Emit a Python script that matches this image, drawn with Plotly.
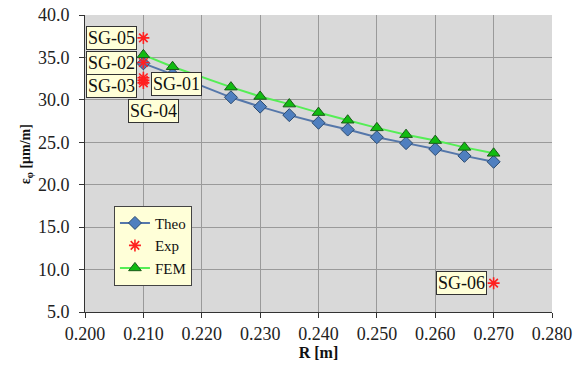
import plotly.graph_objects as go

# Data
r_model = [0.210, 0.215, 0.225, 0.230, 0.235, 0.240, 0.245, 0.250, 0.255, 0.260, 0.265, 0.270]
theo = [34.3, 33.0, 30.3, 29.2, 28.2, 27.3, 26.5, 25.6, 24.9, 24.2, 23.4, 22.7]
fem = [35.3, 33.9, 31.5, 30.4, 29.5, 28.5, 27.6, 26.7, 25.9, 25.2, 24.4, 23.7]

exp_labels = ["SG-01", "SG-02", "SG-03", "SG-04", "SG-05", "SG-06"]
exp_r = [0.210, 0.210, 0.210, 0.210, 0.210, 0.270]
exp_val = [32.6, 34.4, 32.3, 32.0, 37.3, 8.4]

x_ticks = [0.200, 0.210, 0.220, 0.230, 0.240, 0.250, 0.260, 0.270, 0.280]
y_ticks = [5.0, 10.0, 15.0, 20.0, 25.0, 30.0, 35.0, 40.0]

SERIF = "Liberation Serif"

fig = go.Figure()
fig.add_trace(go.Scatter(
    x=r_model, y=theo, name="Theo", mode="lines+markers",
    line=dict(color="#5577aa", width=2),
    marker=dict(symbol="diamond", size=10, color="#4f7fbf",
                line=dict(color="#2a4a70", width=1))))
fig.add_trace(go.Scatter(
    x=exp_r, y=exp_val, name="Exp", mode="markers",
    marker=dict(symbol="asterisk-open", size=10, color="#ff2020",
                line=dict(color="#ff2020", width=1.6))))
fig.add_trace(go.Scatter(
    x=r_model, y=fem, name="FEM", mode="lines+markers",
    line=dict(color="#55ee55", width=2),
    marker=dict(symbol="triangle-up", size=11, color="#11bb11",
                line=dict(color="#1a5a1a", width=1))))

# label placement (anchor, xshift, yshift) per label
placement = {
    "SG-01": ("left", 8, -6),
    "SG-02": ("right", -6, 0),
    "SG-03": ("right", -6, -6),
    "SG-04": ("center", 10, -28),
    "SG-05": ("right", -6, 0),
    "SG-06": ("right", -7, 0),
}
for lab, xv, yv in zip(exp_labels, exp_r, exp_val):
    anc, xs, ys = placement[lab]
    fig.add_annotation(
        x=xv, y=yv, text=lab, showarrow=False, xanchor=anc, yanchor="middle",
        xshift=xs, yshift=ys,
        font=dict(family=SERIF, size=18, color="#111111"),
        bgcolor="#ffffd8", bordercolor="#333333", borderwidth=1, borderpad=1)

# y-axis title as a rotated annotation (placed closer to the ticks)
fig.add_annotation(
    xref="paper", yref="paper", x=-0.125, y=0.53, xanchor="center", yanchor="middle",
    text="<b>ε<sub>φ</sub> [μm/m]</b>", textangle=-90, showarrow=False,
    font=dict(family=SERIF, size=14, color="#111111"))

tickfont = dict(family=SERIF, size=18, color="#222222")

fig.update_layout(
    width=580, height=372,
    margin=dict(l=85, r=28, t=15, b=60),
    paper_bgcolor="white", plot_bgcolor="#d9d9d9",
    font=dict(family=SERIF, size=17, color="#222222"),
    showlegend=True,
    legend=dict(x=0.062, y=0.358, xanchor="left", yanchor="top",
                bgcolor="#ffffd8", bordercolor="#444444", borderwidth=1,
                font=dict(family=SERIF, size=15, color="#111111"),
                itemwidth=30, tracegroupgap=0),
    xaxis=dict(range=[0.200, 0.280], tickvals=x_ticks,
               ticktext=[f"{v:.3f}" for v in x_ticks], tickfont=tickfont,
               showgrid=True, gridcolor="#9a9a9a", gridwidth=1,
               showline=True, linecolor="#333333", linewidth=1,
               ticks="outside", ticklen=5, tickcolor="#333333",
               zeroline=False, automargin=False,
               title=dict(text="<b>R [m]</b>", font=dict(family=SERIF, size=16, color="#111111"), standoff=4)),
    yaxis=dict(range=[5.0, 40.0], tickvals=y_ticks,
               ticktext=[f"{v:.1f}" for v in y_ticks], tickfont=tickfont,
               ticklabelstandoff=6,
               showgrid=True, gridcolor="#9a9a9a", gridwidth=1,
               showline=True, linecolor="#333333", linewidth=1,
               ticks="outside", ticklen=5, tickcolor="#333333",
               zeroline=False, automargin=False),
)

fig.write_html("out.html", config={"displayModeBar": False},
               post_script="document.body.style.margin='0px';")
